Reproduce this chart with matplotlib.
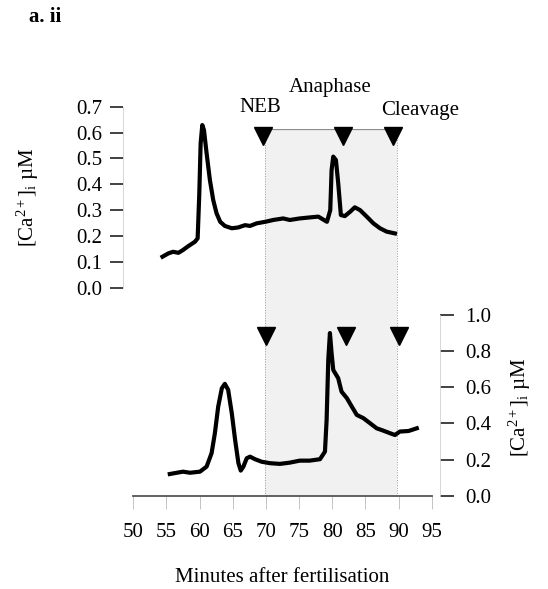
import matplotlib
matplotlib.use("Agg")
import matplotlib.pyplot as plt

plt.rcParams['font.family'] = ['Liberation Serif', 'DejaVu Serif']
plt.rcParams['mathtext.fontset'] = 'custom'
plt.rcParams['mathtext.rm'] = 'Liberation Serif'
plt.rcParams['mathtext.it'] = 'Liberation Serif:italic'

# top trace (left axis, uM)
top_t = [54.4, 55.3, 56.0, 56.8, 57.5, 58.3, 59.3, 59.7, 59.95, 60.15, 60.4, 60.65,
         61.05, 61.55, 62.05, 62.55, 63.1, 63.8, 64.85, 65.8, 66.85, 67.6, 68.6,
         69.9, 71.1, 72.6, 73.6, 75.1, 76.65, 77.9, 79.2, 79.7, 79.9, 80.15, 80.55,
         80.9, 81.3, 81.9, 82.7, 83.4, 84.2, 85.2, 86.2, 87.2, 88.2, 89.45]
top_ca = [0.12, 0.133, 0.139, 0.135, 0.146, 0.161, 0.178, 0.191, 0.365, 0.558, 0.629, 0.61,
          0.52, 0.416, 0.339, 0.288, 0.255, 0.239, 0.23, 0.233, 0.242, 0.239, 0.249,
          0.255, 0.262, 0.268, 0.262, 0.268, 0.272, 0.275, 0.255, 0.30, 0.455, 0.507, 0.494,
          0.404, 0.281, 0.277, 0.294, 0.311, 0.30, 0.275, 0.249, 0.23, 0.217, 0.21]

# bottom trace (right axis, uM)
bot_t = [55.5, 56.55, 57.5, 58.55, 60.05, 61.05, 61.8, 62.3, 62.8, 63.35, 63.8, 64.3,
         64.85, 65.35, 65.85, 66.2, 66.6, 67.1, 67.6, 68.35, 69.35, 70.6, 72.1, 73.6,
         75.1, 76.6, 78.15, 78.9, 79.15, 79.4, 79.65, 79.9, 80.15, 80.9, 81.4, 82.2,
         82.95, 83.7, 84.7, 85.7, 86.7, 87.7, 88.7, 89.45, 90.2, 91.5, 92.75]
bot_ca = [0.12, 0.127, 0.133, 0.127, 0.133, 0.161, 0.235, 0.346, 0.493, 0.595, 0.619, 0.586,
          0.456, 0.309, 0.18, 0.139, 0.161, 0.207, 0.216, 0.202, 0.188, 0.18, 0.176, 0.183,
          0.194, 0.194, 0.202, 0.244, 0.419, 0.752, 0.90, 0.789, 0.696, 0.65, 0.576, 0.54,
          0.493, 0.447, 0.429, 0.401, 0.373, 0.36, 0.346, 0.336, 0.355, 0.358, 0.373]

# events
event_names = ['NEB', 'Anaphase', 'Cleavage']
top_event_t = [69.6, 81.6, 89.1]
bot_event_t = [70.0, 82.1, 90.0]
shade_start, shade_end = 69.9, 89.8

x_ticks = [50, 55, 60, 65, 70, 75, 80, 85, 90, 95]
top_yticks = [0.0, 0.1, 0.2, 0.3, 0.4, 0.5, 0.6, 0.7]
bot_yticks = [0.0, 0.2, 0.4, 0.6, 0.8, 1.0]

FS = 15
fig = plt.figure(figsize=(5.48, 5.89), dpi=100)
L, W = 0.2433, 0.5445

# shaded mitosis window behind both panels
ax_bg = fig.add_axes([L, 0.1584, W, 0.781 - 0.1584], zorder=0)
ax_bg.set_xlim(50, 95)
ax_bg.set_ylim(0, 1)
ax_bg.axis('off')
ax_bg.axvspan(shade_start, shade_end, facecolor='#f1f1f1', edgecolor='none')
ax_bg.vlines([shade_start, shade_end], 0, 1, colors='#9a9a9a', lw=0.7, linestyles=':')
ax_bg.hlines(1, shade_start, shade_end, colors='#8c8c8c', lw=0.9)

# top panel
ax1 = fig.add_axes([L, 0.5115, W, 0.3073], zorder=2)
ax1.patch.set_visible(False)
ax1.plot(top_t, top_ca, color='black', lw=3, solid_joinstyle='round')
ax1.plot(top_event_t, [0.587] * 3, linestyle='none', marker='v', ms=13, color='black')
ax1.set_xlim(50, 95)
ax1.set_ylim(0, 0.7)
ax1.set_yticks(top_yticks)
ax1.set_yticklabels(['%.1f' % v for v in top_yticks])
for s in ['top', 'right', 'bottom']:
    ax1.spines[s].set_visible(False)
ax1.spines['left'].set_position(('outward', 7.2))
ax1.spines['left'].set_color('#d0d0d0')
ax1.spines['left'].set_linewidth(0.6)
ax1.tick_params(axis='x', bottom=False, labelbottom=False)
ax1.tick_params(axis='y', direction='out', length=9.4, width=1.3, color='#333333',
                pad=6, labelsize=FS)
ax1.set_ylabel('[Ca$^{\\mathregular{2+}}$]$_{\\mathregular{i}}$ µM', fontsize=FS, va='center')
ax1.yaxis.set_label_coords(-0.353, 0.5)

label_pos = [(69.1, 0.697), (79.7, 0.774), (93.2, 0.684)]
for name, (tx, ty) in zip(event_names, label_pos):
    ax1.text(tx, ty, name, ha='center', va='center', fontsize=FS, clip_on=False)

# bottom panel
ax2 = fig.add_axes([L, 0.1584, W, 0.3068], zorder=2)
ax2.patch.set_visible(False)
ax2.plot(bot_t, bot_ca, color='black', lw=3, solid_joinstyle='round')
ax2.plot(bot_event_t, [0.886] * 3, linestyle='none', marker='v', ms=13, color='black')
ax2.set_xlim(50, 95)
ax2.set_ylim(0, 1.0)
ax2.set_xticks(x_ticks)
ax2.set_yticks(bot_yticks)
ax2.set_yticklabels(['%.1f' % v for v in bot_yticks])
ax2.yaxis.tick_right()
ax2.yaxis.set_label_position('right')
for s in ['top', 'left']:
    ax2.spines[s].set_visible(False)
ax2.spines['right'].set_position(('outward', 6))
ax2.spines['right'].set_color('#d0d0d0')
ax2.spines['right'].set_linewidth(0.6)
ax2.spines['bottom'].set_color('#555555')
ax2.spines['bottom'].set_linewidth(1.3)
ax2.tick_params(axis='x', direction='out', length=9.4, width=0.7, color='#c4c4c4',
                pad=10, labelsize=FS)
ax2.tick_params(axis='y', direction='out', length=10, width=1.3, color='#333333',
                pad=8, labelsize=FS)
ax2.set_ylabel('[Ca$^{\\mathregular{2+}}$]$_{\\mathregular{i}}$ µM', fontsize=FS,
               rotation=90, va='center')
ax2.yaxis.set_label_coords(1.296, 0.49)
ax2.set_xlabel('Minutes after fertilisation', fontsize=FS, va='center')
ax2.xaxis.set_label_coords(0.5, -0.45)

fig.text(0.053, 0.971, 'a. ii', fontsize=15, fontweight='bold', ha='left', va='center')

fig.savefig('out.png', dpi=100)
